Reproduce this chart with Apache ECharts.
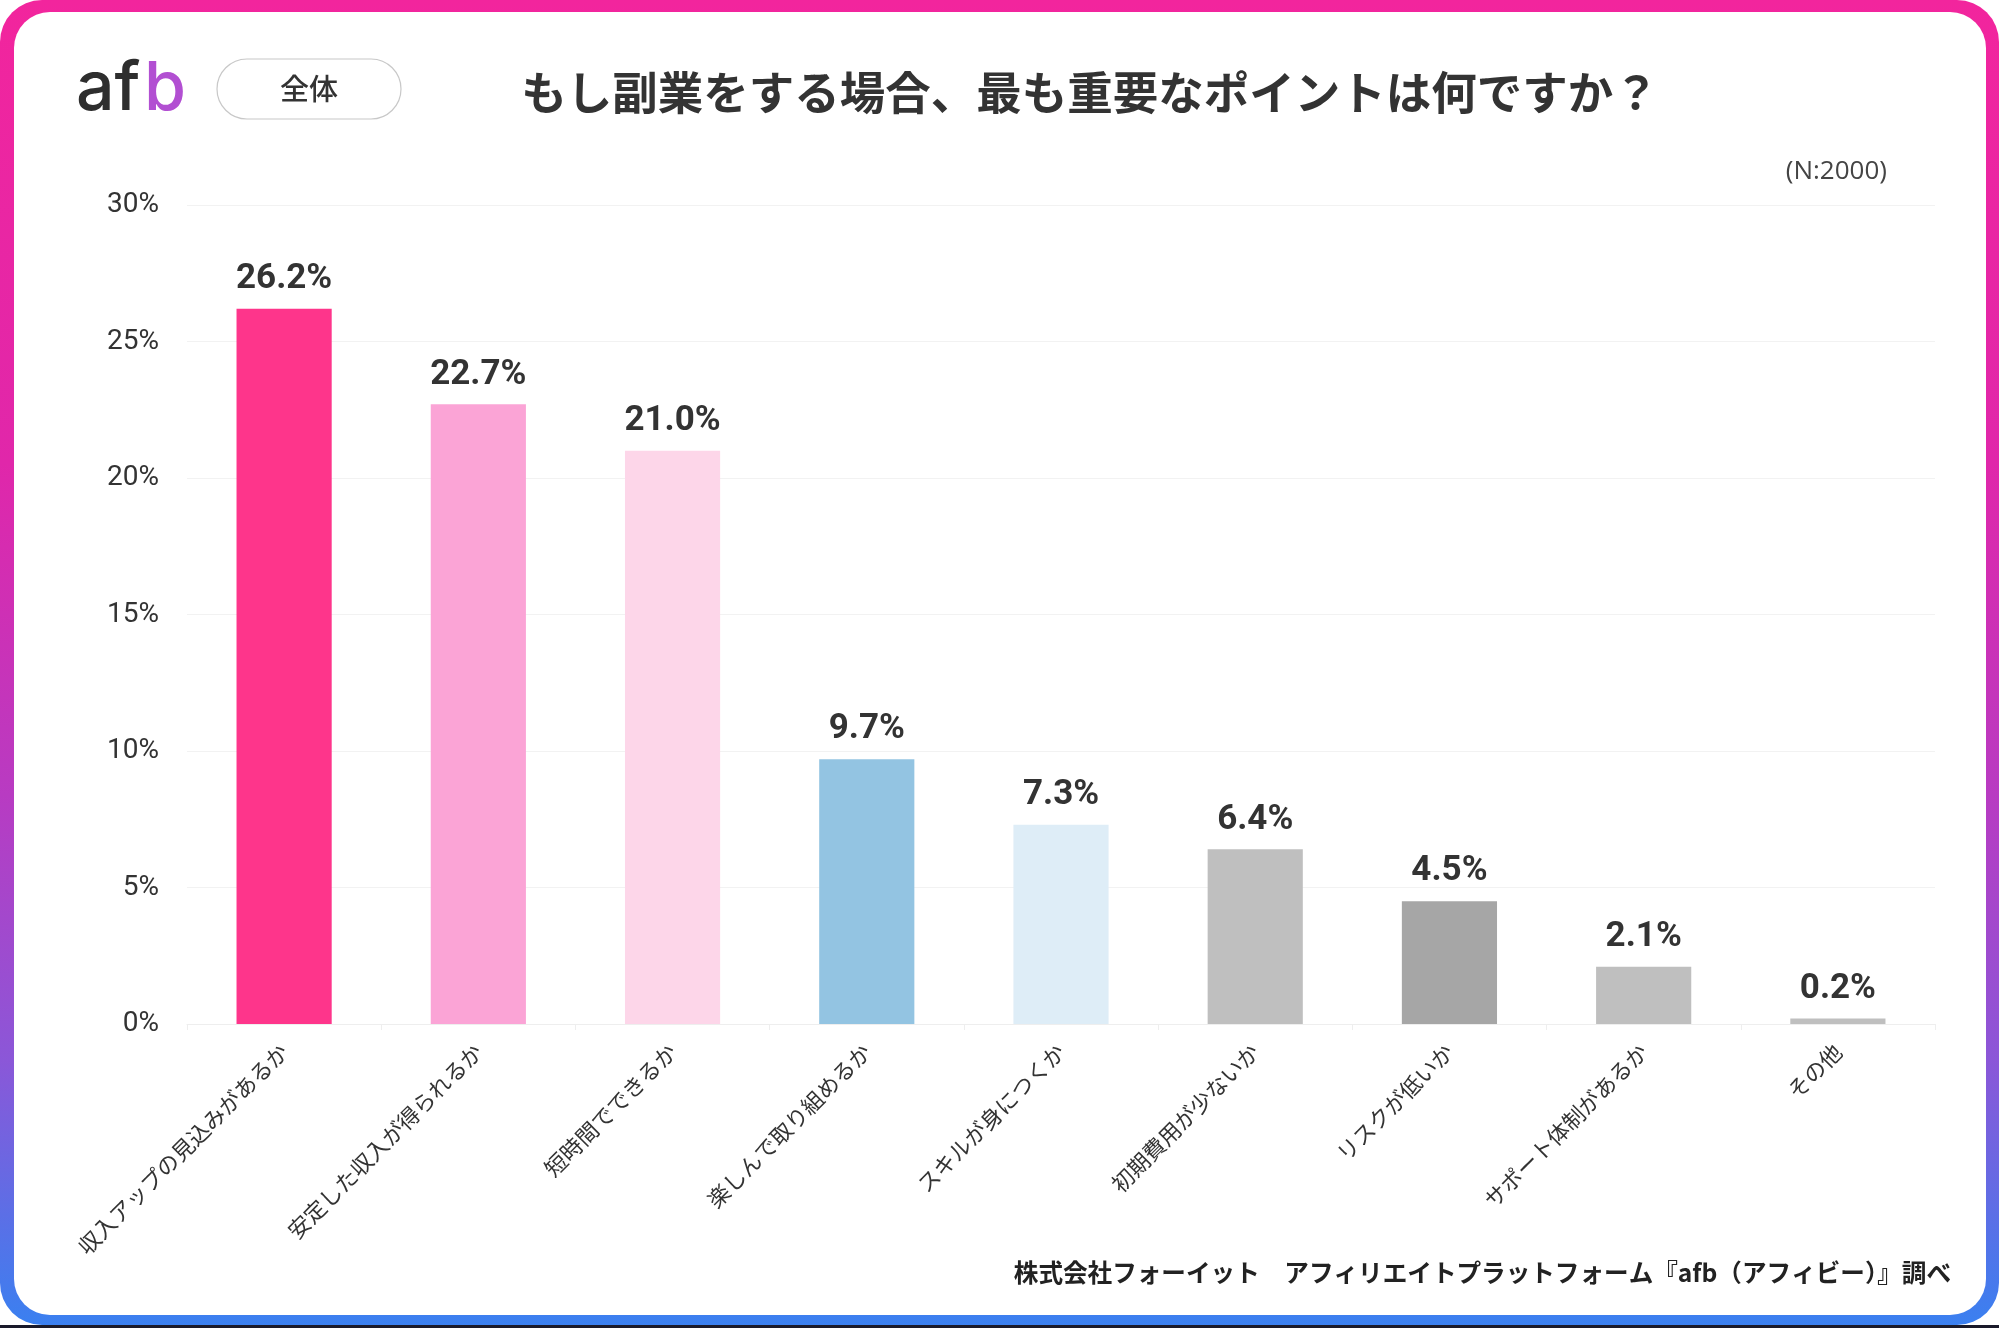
<!DOCTYPE html>
<html><head><meta charset="utf-8">
<script src="https://cdn.jsdelivr.net/npm/echarts@6/dist/echarts.min.js"></script>
<style>html,body{margin:0;padding:0;background:#fff;}#c{width:1999px;height:1328px;}</style>
</head><body><div id="c"></div>
<script>
const categories = ['収入アップの見込みがあるか','安定した収入が得られるか','短時間でできるか','楽しんで取り組めるか','スキルが身につくか','初期費用が少ないか','リスクが低いか','サポート体制があるか','その他'];
const values = [26.2, 22.7, 21.0, 9.7, 7.3, 6.4, 4.5, 2.1, 0.2];
const barColors = ['#FE358B','#FBA4D6','#FDD6E9','#93C4E2','#DEEDF7','#BFBFBF','#A6A6A6','#BFBFBF','#BFBFBF'];
const yTicks = [0, 5, 10, 15, 20, 25, 30];
const titleText = 'もし副業をする場合、最も重要なポイントは何ですか？';
const segmentText = '全体';
const sampleText = '(N:2000)';
const sourceText = '株式会社フォーイット　アフィリエイトプラットフォーム『afb（アフィビー）』調べ';

const chart = echarts.init(document.getElementById('c'), null, {renderer:'canvas'});
const jp = '"Noto Sans CJK JP", "Noto Sans", sans-serif';
const num = 'Roboto, "Noto Sans", sans-serif';

const borderGrad = new echarts.graphic.LinearGradient(0,0,0,1,[
  {offset:0, color:'#F2259D'},
  {offset:0.35, color:'#E027AA'},
  {offset:0.6, color:'#B83BC2'},
  {offset:0.8, color:'#8B57D8'},
  {offset:1, color:'#3A80F0'}
]);

chart.setOption({
  backgroundColor:'#fff',
  animation:false,
  grid:{left:187, right:64, top:205, bottom:304},
  xAxis:{
    type:'category', data:categories,
    axisLine:{lineStyle:{color:'#EEEEEE'}},
    axisTick:{show:true, lineStyle:{color:'#EEEEEE'}, length:6},
    axisLabel:{rotate:45, interval:0, margin:24, fontSize:22, color:'#333', fontFamily:jp}
  },
  yAxis:{
    type:'value', min:0, max:30, interval:5,
    axisLine:{show:false}, axisTick:{show:false},
    splitLine:{lineStyle:{color:'#F2F2F2', width:1}},
    axisLabel:{formatter: v => yTicks.includes(v) ? v + '%' : '', margin:28, fontSize:28, color:'#333', fontFamily:num}
  },
  series:[{
    type:'bar', barWidth:'49%',
    data: values.map((v,i)=>({value:v, itemStyle:{color:barColors[i]}})),
    label:{show:true, position:'top', distance:12, formatter: p => p.value.toFixed(1) + '%',
      fontSize:35, fontWeight:'bold', color:'#333', fontFamily:num}
  }],
  graphic:[
    {type:'rect', z:-10, silent:true, shape:{x:0,y:0,width:1999,height:1325,r:[42,42,42,42]}, style:{fill:borderGrad}},
    {type:'rect', z:-10, silent:true, shape:{x:0,y:1325,width:1999,height:3}, style:{fill:'#1a1a2a'}},
    {type:'rect', z:-9, silent:true, shape:{x:14,y:12,width:1972,height:1303,r:[36,36,36,36]}, style:{fill:'#fff'}},
    {type:'text', x:76, y:90, style:{text:'af', font:'500 68px Inter, "Noto Sans", sans-serif', fill:'#2E2E2E', verticalAlign:'middle'}},
    {type:'text', x:144, y:90, style:{text:'b', font:'500 68px Inter, "Noto Sans", sans-serif', fill:'#B24FD2', verticalAlign:'middle'}},
    {type:'rect', shape:{x:217,y:59,width:184,height:60,r:30}, style:{fill:'#fff', stroke:'#C8C8C8', lineWidth:1.2}},
    {type:'text', x:309, y:89, style:{text:segmentText, font:'500 29px '+jp, fill:'#333', align:'center', verticalAlign:'middle'}},
    {type:'text', x:1090, y:93, style:{text:titleText, font:'bold 45.5px '+jp, fill:'#333', align:'center', verticalAlign:'middle'}},
    {type:'text', x:1887, y:172, style:{text:sampleText, font:'26px "Open Sans", sans-serif', fill:'#444', align:'right', verticalAlign:'middle'}},
    {type:'text', x:1951, y:1273, style:{text:sourceText, font:'bold 24.6px '+jp, fill:'#222', align:'right', verticalAlign:'middle'}}
  ]
});
</script></body></html>
